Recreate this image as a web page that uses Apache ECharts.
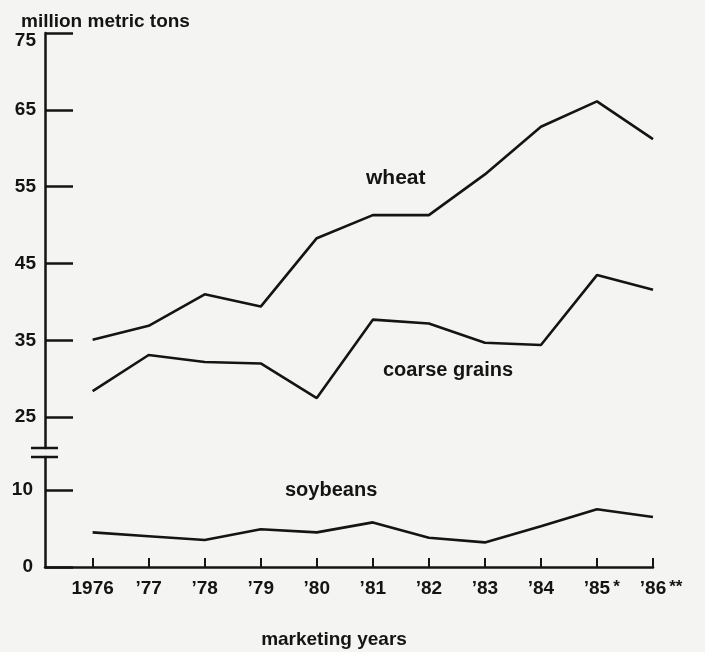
<!DOCTYPE html>
<html>
<head>
<meta charset="utf-8">
<script src="https://cdn.jsdelivr.net/npm/echarts@6/dist/echarts.min.js"></script>
<style>
html,body{margin:0;padding:0;background:#f4f4f2;}
#chart{width:705px;height:652px;}
</style>
</head>
<body>
<div id="chart"></div>
<script>
// ---- data ----
const years = [1976, 1977, 1978, 1979, 1980, 1981, 1982, 1983, 1984, 1985, 1986];
const yearLabels = ["1976", "’77", "’78", "’79", "’80", "’81", "’82", "’83", "’84", "’85*", "’86**"];
const wheat = [35.1, 36.9, 41.0, 39.4, 48.3, 51.3, 51.3, 56.6, 62.8, 66.1, 61.2];
const coarseGrains = [28.4, 33.1, 32.2, 32.0, 27.5, 37.7, 37.2, 34.7, 34.4, 43.5, 41.6];
const soybeans = [4.5, 4.0, 3.5, 4.9, 4.5, 5.8, 3.8, 3.2, 5.3, 7.5, 6.5];
const upperTicks = [25, 35, 45, 55, 65, 75];
const lowerTicks = [0, 10];
const seriesNames = ["wheat", "coarse grains", "soybeans"];
const unitLabel = "million metric tons";
const xTitle = "marketing years";

// ---- chart ----
const FONT = '"Liberation Sans", Arial, Helvetica, sans-serif';
const INK = '#141414';
const chart = echarts.init(document.getElementById('chart'), null, {renderer: 'canvas'});

const xMin = 1975.15, xMax = 1986.0;
const gridLeft = 45, gridRight = 705 - 653;

function pairs(arr) { return years.map((y, i) => [y, arr[i]]); }

function yLabel(extra) {
  return Object.assign({
    color: INK, fontFamily: FONT, fontWeight: 'bold', fontSize: 19, margin: 9,
    formatter: function (v) { return v === 75 ? '{t|' + v + '}' : '{d|' + v + '}'; },
    rich: {
      d: {color: INK, fontFamily: FONT, fontWeight: 'bold', fontSize: 19},
      t: {color: INK, fontFamily: FONT, fontWeight: 'bold', fontSize: 19, padding: [16, 0, 0, 0]}
    }
  }, extra);
}

const option = {
  backgroundColor: '#f4f4f2',
  animation: false,
  title: {
    text: unitLabel, left: 16, top: 7,
    textStyle: {color: INK, fontFamily: FONT, fontWeight: 'bold', fontSize: 19}
  },
  grid: [
    {left: gridLeft, right: gridRight, top: 33, height: 415},
    {left: gridLeft, right: gridRight, top: 457, height: 110}
  ],
  xAxis: [
    {gridIndex: 0, type: 'value', min: xMin, max: xMax, show: false},
    {
      gridIndex: 1, type: 'value', min: xMin, max: xMax,
      splitLine: {show: false},
      axisLine: {show: true, lineStyle: {color: INK, width: 2.5}},
      axisTick: {show: true, inside: true, length: 9, customValues: years, lineStyle: {color: INK, width: 2}},
      axisLabel: {
        customValues: years, margin: 12,
        formatter: function (v) {
          const idx = years.indexOf(Math.round(v));
          if (idx < 0) return '';
          const lab = yearLabels[idx];
          const m = lab.match(/\*+$/);
          if (!m) return '{n|' + lab + '}';
          const base = lab.slice(0, lab.length - m[0].length);
          return '{h|' + m[0] + '}{n|' + base + '}{s|' + m[0] + '}';
        },
        rich: {
          n: {color: INK, fontFamily: FONT, fontWeight: 'bold', fontSize: 19},
          s: {color: INK, fontFamily: FONT, fontWeight: 'bold', fontSize: 17, verticalAlign: 'top', padding: [0, 0, 0, 3]},
          h: {color: 'rgba(0,0,0,0)', fontFamily: FONT, fontWeight: 'bold', fontSize: 17, verticalAlign: 'top', padding: [0, 3, 0, 0]}
        }
      }
    }
  ],
  yAxis: [
    {
      gridIndex: 0, type: 'value', min: 21, max: 75,
      splitLine: {show: false},
      axisLine: {show: true, lineStyle: {color: INK, width: 2.5}},
      axisTick: {show: true, inside: true, length: 28, customValues: upperTicks, lineStyle: {color: INK, width: 2.5}},
      axisLabel: yLabel({customValues: upperTicks})
    },
    {
      gridIndex: 1, type: 'value', min: 0, max: 14.3,
      splitLine: {show: false},
      axisLine: {show: true, lineStyle: {color: INK, width: 2.5}},
      axisTick: {show: true, inside: true, length: 28, customValues: lowerTicks, lineStyle: {color: INK, width: 2.5}},
      axisLabel: yLabel({customValues: lowerTicks, margin: 12})
    }
  ],
  series: [
    {name: seriesNames[0], type: 'line', xAxisIndex: 0, yAxisIndex: 0, data: pairs(wheat),
     symbol: 'none', lineStyle: {color: INK, width: 2.6}, z: 3},
    {name: seriesNames[1], type: 'line', xAxisIndex: 0, yAxisIndex: 0, data: pairs(coarseGrains),
     symbol: 'none', lineStyle: {color: INK, width: 2.6}, z: 3},
    {name: seriesNames[2], type: 'line', xAxisIndex: 1, yAxisIndex: 1, data: pairs(soybeans),
     symbol: 'none', lineStyle: {color: INK, width: 2.6}, z: 3}
  ],
  graphic: [
    // axis break marks
    {type: 'line', shape: {x1: 31, y1: 448, x2: 58, y2: 448}, style: {stroke: INK, lineWidth: 2.5}},
    {type: 'line', shape: {x1: 31, y1: 457, x2: 58, y2: 457}, style: {stroke: INK, lineWidth: 2.5}},
    // series labels
    {type: 'text', left: 366, top: 168, style: {text: seriesNames[0], fill: INK, font: 'bold 21px ' + FONT}},
    {type: 'text', left: 383, top: 360, style: {text: seriesNames[1], fill: INK, font: 'bold 20px ' + FONT}},
    {type: 'text', left: 285, top: 480, style: {text: seriesNames[2], fill: INK, font: 'bold 20px ' + FONT}},
    // x axis title
    {type: 'text', x: 334, y: 640, style: {text: xTitle, fill: INK, font: 'bold 19px ' + FONT, textAlign: 'center', textVerticalAlign: 'middle'}}
  ]
};
chart.setOption(option);
</script>
</body>
</html>
